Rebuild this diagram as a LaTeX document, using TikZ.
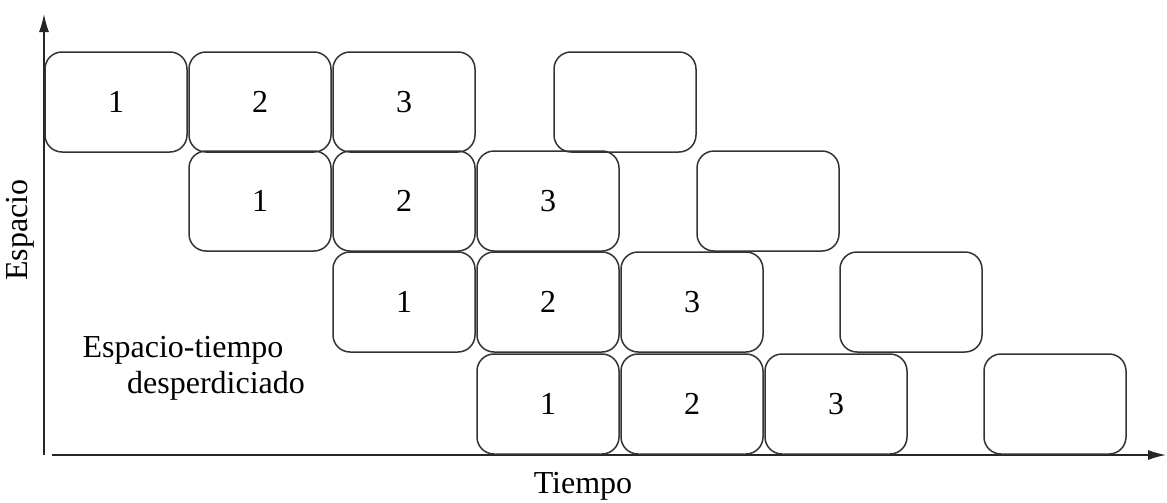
\documentclass[tikz,border=0pt]{standalone}
\usepackage{fontspec}
\setmainfont{Liberation Serif}
\usepackage{tikz}
\usetikzlibrary{positioning,arrows.meta}

\begin{document}
\begin{tikzpicture}[x=0.5pt,y=-0.5pt,
  arr/.style={-{Latex[length=9pt,width=5pt]},line width=0.7pt,draw=black!85},
  slot/.style={draw=black!80,line width=0.75pt,rounded corners=8.5pt,
    minimum width=71pt,minimum height=50pt,inner sep=0pt,
    font=\fontsize{16}{19}\selectfont},
  lbl/.style={font=\fontsize{16}{19}\selectfont,inner sep=0pt}]
\useasboundingbox (0,0) rectangle (1167,503);
% axes
\coordinate (yb) at (44,455);
\coordinate (yt) at (44,14);
\coordinate (xl) at (52,455);
\coordinate (xr) at (1166,455);
\draw[arr] (yb) -- (yt);
\draw[arr] (xl) -- (xr);
\node[lbl,rotate=90] (esp) at (20,230) {Espacio};
\node[lbl] (tie) at (583,486) {Tiempo};
% row 1
\node[slot] (a1) at (116,102) {1};
\node[slot] (a2) at (260,102) {2};
\node[slot] (a3) at (404,102) {3};
\node[slot] (a4) at (625,102) {};
% row 2
\node[slot] (b1) at (260,201) {1};
\node[slot] (b2) at (404,201) {2};
\node[slot] (b3) at (548,201) {3};
\node[slot] (b4) at (768,201) {};
% row 3
\node[slot] (c1) at (404,302) {1};
\node[slot] (c2) at (548,302) {2};
\node[slot] (c3) at (692,302) {3};
\node[slot] (c4) at (911,302) {};
% row 4
\node[slot] (d1) at (548,404) {1};
\node[slot] (d2) at (692,404) {2};
\node[slot] (d3) at (836,404) {3};
\node[slot] (d4) at (1055,404) {};
% wasted area
\node[lbl,anchor=base] (w1) at (183,357) {Espacio-tiempo};
\node[lbl,anchor=base] (w2) at (216,393) {desperdiciado};
\end{tikzpicture}
\end{document}
